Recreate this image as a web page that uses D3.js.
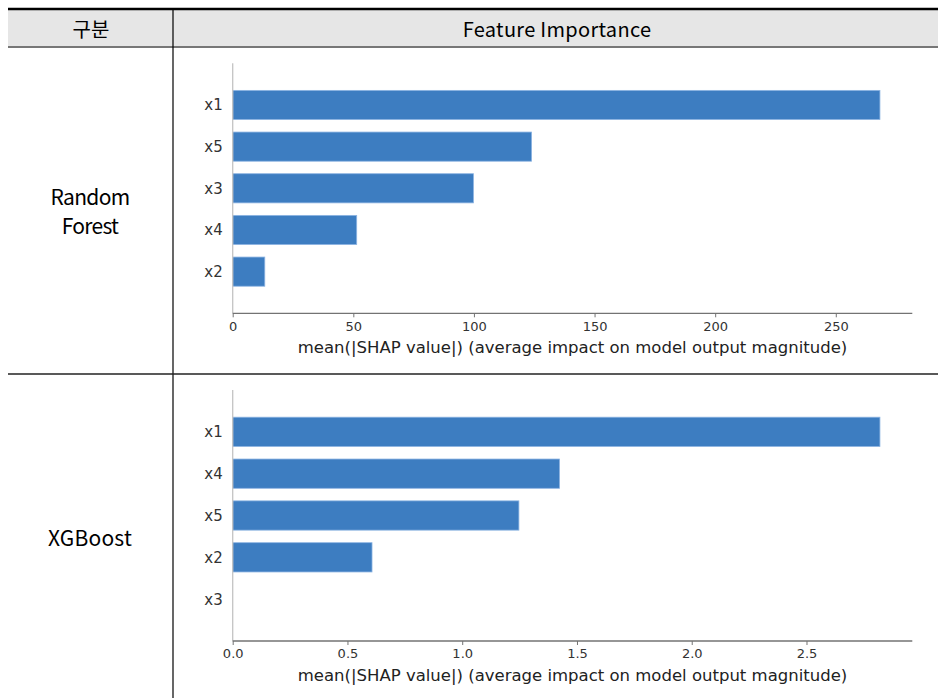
<!DOCTYPE html>
<html>
<head>
<meta charset="utf-8">
<script src="https://cdn.jsdelivr.net/npm/d3@7"></script>
<style>
  html, body { margin: 0; padding: 0; background: #fff; }
  svg { display: block; }
  .plot text { font-family: "DejaVu Sans", "Verdana", sans-serif; }
  .tbl { font-family: "Noto Sans CJK KR", "Noto Sans", sans-serif; }
</style>
</head>
<body>
<svg id="chart" width="938" height="698"></svg>
<script>
// Table header labels
const headerLabels = ["구분", "Feature Importance"];
// Model names in the left column
const modelNames = [["Random", "Forest"], ["XGBoost"]];

// Random Forest: mean |SHAP| per feature, sorted top to bottom
const rfFeatures = ["x1", "x5", "x3", "x4", "x2"];
const rfValues = [268.3, 123.9, 99.8, 51.4, 13.3];
const rfTicks = [0, 50, 100, 150, 200, 250];

// XGBoost: mean |SHAP| per feature, sorted top to bottom
const xgbFeatures = ["x1", "x4", "x5", "x2", "x3"];
const xgbValues = [2.82, 1.424, 1.247, 0.607, 0.0];
const xgbTicks = [0, 0.5, 1.0, 1.5, 2.0, 2.5];

const xLabel = "mean(|SHAP value|) (average impact on model output magnitude)";

const svg = d3.select("#chart");
const W = 938, H = 698;
const tableLeft = 8, colX = 173, rowY = 374;

svg.append("rect").attr("width", W).attr("height", H).attr("fill", "#fff");

// ---- table frame ----
svg.append("rect").attr("x", tableLeft).attr("y", 10).attr("width", W - tableLeft).attr("height", 36)
  .attr("fill", "#e6e6e6");
svg.append("line").attr("x1", tableLeft).attr("x2", W).attr("y1", 9).attr("y2", 9)
  .attr("stroke", "#000").attr("stroke-width", 2.5);
svg.append("line").attr("x1", tableLeft).attr("x2", W).attr("y1", 47).attr("y2", 47)
  .attr("stroke", "#777").attr("stroke-width", 2);
svg.append("line").attr("x1", colX).attr("x2", colX).attr("y1", 10).attr("y2", H)
  .attr("stroke", "#000").attr("stroke-width", 1.2);
svg.append("line").attr("x1", tableLeft).attr("x2", W).attr("y1", rowY).attr("y2", rowY)
  .attr("stroke", "#222").attr("stroke-width", 1.5);

// header text
svg.append("text").attr("class", "tbl").attr("x", (tableLeft + colX) / 2 + 0.5).attr("y", 37)
  .attr("text-anchor", "middle").attr("font-weight", 400)
  .attr("font-size", 20).attr("fill", "#000").text(headerLabels[0]);
svg.append("text").attr("class", "tbl").attr("x", 557).attr("y", 37)
  .attr("text-anchor", "middle").attr("font-weight", 400)
  .attr("font-size", 20).attr("letter-spacing", 0.3).attr("fill", "#000").text(headerLabels[1]);

// model labels
const modelBaselines = [[205, 233.5], [546]];
const modelSpacing = [-0.7, 0.2];
modelNames.forEach((lines, i) => {
  lines.forEach((ln, j) => {
    svg.append("text").attr("class", "tbl").attr("x", 90).attr("y", modelBaselines[i][j])
      .attr("text-anchor", "middle").attr("font-weight", 400)
      .attr("font-size", 21).attr("letter-spacing", modelSpacing[i]).attr("fill", "#000").text(ln);
  });
});

// ---- SHAP-style horizontal bar plots ----
function barPlot(cfg) {
  const { features, values, ticks, fmt, top, bottom } = cfg;
  const left = 232.7, right = 912.3;
  const n = features.length;
  const x = d3.scaleLinear().domain([0, d3.max(values) * 1.05]).range([left, right]);
  const y = d3.scaleLinear().domain([-1, n]).range([bottom, top]);
  const unit = Math.abs(y(1) - y(0));
  const barH = unit * 0.7;
  const g = svg.append("g").attr("class", "plot");

  // bars
  g.selectAll("rect.bar").data(values).join("rect")
    .attr("class", "bar")
    .attr("x", x(0))
    .attr("y", (d, i) => y(n - 1 - i) - barH / 2)
    .attr("width", d => Math.max(0, x(d) - x(0)))
    .attr("height", barH)
    .attr("fill", "#3d7dc1")
    .attr("stroke", d => d > 0 ? "#8db4e2" : "none")
    .attr("stroke-width", 0.8);

  // feature labels
  g.selectAll("text.feat").data(features).join("text")
    .attr("class", "feat")
    .attr("x", left - 10)
    .attr("y", (d, i) => y(n - 1 - i))
    .attr("dy", "0.36em")
    .attr("text-anchor", "end")
    .attr("font-size", 15)
    .attr("fill", "#333")
    .text(d => d);

  // left spine
  g.append("line").attr("x1", left).attr("x2", left).attr("y1", top).attr("y2", bottom)
    .attr("stroke", "#c4c4c4").attr("stroke-width", 1.3);

  // bottom axis
  const axis = d3.axisBottom(x).tickValues(ticks).tickFormat(fmt).tickSize(4).tickPadding(4);
  const ax = g.append("g").attr("transform", `translate(0,${bottom})`).call(axis);
  ax.attr("font-family", null).attr("font-size", null);
  ax.select(".domain").attr("stroke", "#737373").attr("stroke-width", 1.3)
    .attr("d", `M${left},0H${right}`);
  ax.selectAll(".tick line").attr("stroke", "#737373").attr("stroke-width", 1);
  ax.selectAll(".tick text").attr("font-size", 13).attr("fill", "#333");

  // x label
  g.append("text").attr("x", (left + right) / 2).attr("y", bottom + 40)
    .attr("text-anchor", "middle").attr("font-size", 16.5)
    .attr("fill", "#222").text(xLabel);
}

barPlot({ features: rfFeatures, values: rfValues, ticks: rfTicks,
  fmt: d3.format("d"), top: 63.3, bottom: 313.3 });
barPlot({ features: xgbFeatures, values: xgbValues, ticks: xgbTicks,
  fmt: d3.format(".1f"), top: 390, bottom: 641 });
</script>
</body>
</html>
